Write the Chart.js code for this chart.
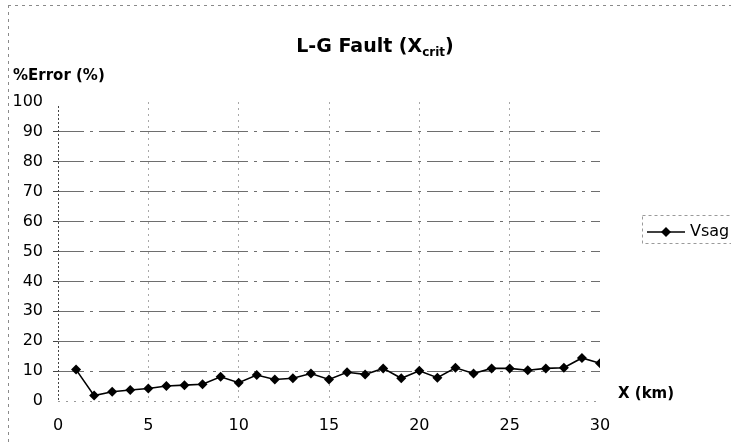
<!DOCTYPE html>
<html>
<head>
<meta charset="utf-8">
<script src="https://cdn.jsdelivr.net/npm/chart.js@4/dist/chart.umd.min.js"></script>
<style>
  html, body { margin: 0; padding: 0; background: #fff; }
  #wrap { width: 731px; height: 445px; position: relative; }
</style>
</head>
<body>
<div id="wrap"><canvas id="c" width="731" height="445"></canvas></div>
<script>
// Distance along the line (km)
const distances = [1, 2, 3, 4, 5, 6, 7, 8, 9, 10, 11, 12, 13, 14, 15,
                   16, 17, 18, 19, 20, 21, 22, 23, 24, 25, 26, 27, 28, 29, 30];
// Percentage error of the Vsag method
const vsagError = [10.5, 1.8, 3.1, 3.7, 4.2, 5.0, 5.3, 5.6, 8.1, 6.1, 8.7, 7.2, 7.6, 9.2, 7.2,
                   9.6, 8.9, 10.9, 7.6, 10.1, 7.8, 11.1, 9.2, 10.9, 10.9, 10.3, 10.9, 11.1, 14.4, 12.6];
const seriesName = 'Vsag';
const xTicks = [0, 5, 10, 15, 20, 25, 30];
const yTicks = [0, 10, 20, 30, 40, 50, 60, 70, 80, 90, 100];

const FONT = '"DejaVu Sans", "Liberation Sans", Arial, sans-serif';

// Frame, axis lines, titles and legend drawn on the canvas
const decorations = {
  id: 'decorations',
  beforeDraw(chart) {
    const ctx = chart.ctx;
    ctx.save();
    ctx.fillStyle = '#fff';
    ctx.fillRect(0, 0, chart.width, chart.height);
    ctx.strokeStyle = '#8a8a8a';
    ctx.lineWidth = 1;
    ctx.setLineDash([3, 4]);
    ctx.beginPath();
    ctx.moveTo(8, 5.5); ctx.lineTo(chart.width, 5.5);
    ctx.moveTo(8.5, 5); ctx.lineTo(8.5, chart.height);
    ctx.stroke();
    ctx.restore();
  },
  beforeDatasetsDraw(chart) {
    const ctx = chart.ctx;
    const a = chart.chartArea;
    ctx.save();
    ctx.lineWidth = 1;
    ctx.setLineDash([2, 2]);
    ctx.strokeStyle = '#444';
    ctx.beginPath();
    ctx.moveTo(Math.round(a.left) + 0.5, a.top + 4);
    ctx.lineTo(Math.round(a.left) + 0.5, a.bottom);
    ctx.stroke();
    ctx.setLineDash([2, 6]);
    ctx.strokeStyle = '#999';
    ctx.beginPath();
    ctx.moveTo(a.left, Math.round(a.bottom) + 0.5);
    ctx.lineTo(a.right, Math.round(a.bottom) + 0.5);
    ctx.stroke();
    ctx.restore();
  },
  afterDraw(chart) {
    const ctx = chart.ctx;
    ctx.save();
    ctx.fillStyle = '#000';
    ctx.textBaseline = 'alphabetic';

    // Title with subscript
    const mainFont = 'bold 19px ' + FONT;
    const subFont = 'bold 12px ' + FONT;
    const p1 = 'L-G Fault (X', p2 = 'crit', p3 = ')';
    ctx.font = mainFont; const w1 = ctx.measureText(p1).width; const w3 = ctx.measureText(p3).width;
    ctx.font = subFont; const w2 = ctx.measureText(p2).width;
    let x = 375 - (w1 + w2 + w3) / 2;
    const base = 52;
    ctx.font = mainFont; ctx.fillText(p1, x, base); x += w1;
    ctx.font = subFont; ctx.fillText(p2, x, base + 4); x += w2;
    ctx.font = mainFont; ctx.fillText(p3, x, base);

    // Axis titles
    ctx.textBaseline = 'middle';
    ctx.font = 'bold 15px ' + FONT;
    ctx.textAlign = 'left';
    ctx.fillText('%Error (%)', 13, 76);
    ctx.fillText('X (km)', 618, 394);

    // Legend
    const ds = chart.data.datasets[0];
    ctx.strokeStyle = '#9a9a9a';
    ctx.lineWidth = 1;
    ctx.setLineDash([3, 3]);
    ctx.strokeRect(642.5, 215.5, 100, 28);
    ctx.setLineDash([]);
    ctx.strokeStyle = ds.borderColor;
    ctx.lineWidth = ds.borderWidth;
    ctx.beginPath();
    ctx.moveTo(647, 232); ctx.lineTo(685, 232);
    ctx.stroke();
    ctx.fillStyle = ds.pointBackgroundColor;
    ctx.beginPath();
    ctx.moveTo(666, 232 - 5); ctx.lineTo(671, 232); ctx.lineTo(666, 232 + 5); ctx.lineTo(661, 232);
    ctx.closePath(); ctx.fill();
    ctx.fillStyle = '#000';
    ctx.font = '16px ' + FONT;
    ctx.fillText(ds.label, 690, 232);
    ctx.restore();
  }
};

new Chart(document.getElementById('c'), {
  type: 'line',
  data: {
    datasets: [{
      label: seriesName,
      data: distances.map((d, i) => ({ x: d, y: vsagError[i] })),
      borderColor: '#000',
      backgroundColor: '#000',
      pointBackgroundColor: '#000',
      pointBorderColor: '#000',
      borderWidth: 1.6,
      pointStyle: 'rectRot',
      pointRadius: 5,
      pointBorderWidth: 0,
      tension: 0,
      fill: false
    }]
  },
  options: {
    responsive: false,
    devicePixelRatio: 1,
    animation: false,
    events: [],
    layout: { padding: { left: 0, right: 131, top: 102, bottom: 0 } },
    plugins: {
      legend: { display: false },
      title: { display: false },
      tooltip: { enabled: false }
    },
    scales: {
      x: {
        type: 'linear',
        min: xTicks[0],
        max: xTicks[xTicks.length - 1],
        afterBuildTicks: s => { s.ticks = xTicks.map(v => ({ value: v })); },
        afterFit: s => { s.height = 44; },
        ticks: { color: '#000', font: { family: FONT, size: 16 }, padding: 15, maxRotation: 0 },
        grid: {
          drawTicks: false,
          lineWidth: 1,
          color: c => (c.tick && c.tick.value > 0 && c.tick.value < 30) ? '#a8a8a8' : 'rgba(0,0,0,0)'
        },
        border: { display: false, dash: [2, 4] }
      },
      y: {
        min: yTicks[0],
        max: yTicks[yTicks.length - 1],
        afterBuildTicks: s => { s.ticks = yTicks.map(v => ({ value: v })); },
        afterFit: s => { s.width = 58; },
        ticks: { color: '#000', font: { family: FONT, size: 16 }, padding: 10 },
        grid: {
          lineWidth: 1,
          color: c => (c.tick && c.tick.value > 0 && c.tick.value < 100) ? '#6e6e6e' : 'rgba(0,0,0,0)',
          tickLength: 5,
          tickColor: c => (c.tick && c.tick.value > 0 && c.tick.value < 100) ? '#444' : 'rgba(0,0,0,0)'
        },
        border: { display: false, dash: [26, 6, 3, 6] }
      }
    }
  },
  plugins: [decorations]
});
</script>
</body>
</html>
